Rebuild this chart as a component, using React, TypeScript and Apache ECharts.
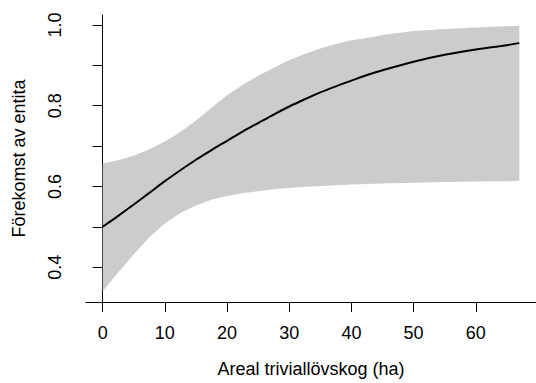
import React, { useEffect, useRef } from "react";
import * as echarts from "echarts";

const xs = [0, 2.5, 5, 7.5, 10, 12.5, 15, 17.5, 20, 22.5, 25, 27.5, 30, 32.5, 35, 37.5, 40, 42.5, 45, 50, 55, 60, 65, 67];
const fit = [0.5, 0.527, 0.555, 0.584, 0.613, 0.64, 0.666, 0.69, 0.713, 0.736, 0.757, 0.778, 0.798, 0.816, 0.833, 0.848, 0.862, 0.876, 0.888, 0.909, 0.926, 0.939, 0.95, 0.955];
const upper = [0.657, 0.665, 0.676, 0.692, 0.711, 0.735, 0.763, 0.795, 0.826, 0.851, 0.874, 0.894, 0.913, 0.928, 0.942, 0.953, 0.962, 0.968, 0.975, 0.985, 0.99, 0.994, 0.997, 0.998];
const lower = [0.34, 0.387, 0.432, 0.474, 0.508, 0.534, 0.553, 0.567, 0.576, 0.583, 0.588, 0.593, 0.596, 0.599, 0.601, 0.603, 0.605, 0.606, 0.607, 0.609, 0.611, 0.612, 0.613, 0.614];

const xTicks = [0, 10, 20, 30, 40, 50, 60];
const yTicks = [0.4, 0.5, 0.6, 0.7, 0.8, 0.9, 1.0];
const yLabels = [0.4, 0.6, 0.8, 1.0];

const xTitle = "Areal triviallövskog (ha)";
const yTitle = "Förekomst av entita";

export default function App() {
  const ref = useRef<HTMLDivElement>(null);
  useEffect(() => {
    document.body.style.margin = "0";
    const chart = echarts.init(ref.current!, null, { renderer: "svg" });
    const font = "'Liberation Sans', Arial, sans-serif";
    chart.setOption({
      animation: false,
      backgroundColor: "#ffffff",
      grid: { left: 86, top: 15, right: -4, bottom: 80 },
      xAxis: {
        type: "value",
        min: -2.68,
        max: 69.68,
        name: xTitle,
        nameLocation: "middle",
        nameGap: 58,
        nameTextStyle: { fontFamily: font, fontSize: 18, color: "#000" },
        axisLine: { onZero: false, lineStyle: { color: "#000", width: 1 } },
        axisTick: { show: true, length: 10, customValues: xTicks, lineStyle: { color: "#000" } },
        axisLabel: {
          customValues: xTicks,
          margin: 22,
          fontFamily: font,
          fontSize: 18,
          color: "#000",
          formatter: (v: number) => String(v),
        },
        splitLine: { show: false },
      },
      yAxis: {
        type: "value",
        min: 0.3136,
        max: 1.0247,
        name: yTitle,
        nameLocation: "middle",
        nameRotate: 90,
        nameGap: 58,
        nameTextStyle: { fontFamily: font, fontSize: 18, color: "#000" },
        axisLine: { show: true, lineStyle: { color: "#000", width: 1 } },
        axisTick: { show: true, length: 10, customValues: yTicks, lineStyle: { color: "#000" } },
        axisLabel: {
          customValues: yLabels,
          rotate: 90,
          margin: 22,
          fontFamily: font,
          fontSize: 18,
          color: "#000",
          formatter: (v: number) => v.toFixed(1),
        },
        splitLine: { show: false },
      },
      series: [
        {
          type: "custom",
          data: xs.map((x, i) => [x, lower[i], upper[i]]),
          silent: true,
          z: 1,
          renderItem: (params: any, api: any) => {
            if (params.dataIndex !== 0) return null;
            const top = xs.map((x, i) => api.coord([x, upper[i]]));
            const bot = xs.map((x, i) => api.coord([x, lower[i]])).reverse();
            return {
              type: "polygon",
              shape: { points: top.concat(bot) },
              style: { fill: "#cccccc", stroke: "none" },
            };
          },
        },
        {
          type: "line",
          data: xs.map((x, i) => [x, fit[i]]),
          symbol: "none",
          smooth: 0.3,
          z: 3,
          lineStyle: { color: "#000", width: 2 },
        },
      ],
    });
    return () => chart.dispose();
  }, []);
  return <div ref={ref} style={{ width: 536, height: 383 }} />;
}
